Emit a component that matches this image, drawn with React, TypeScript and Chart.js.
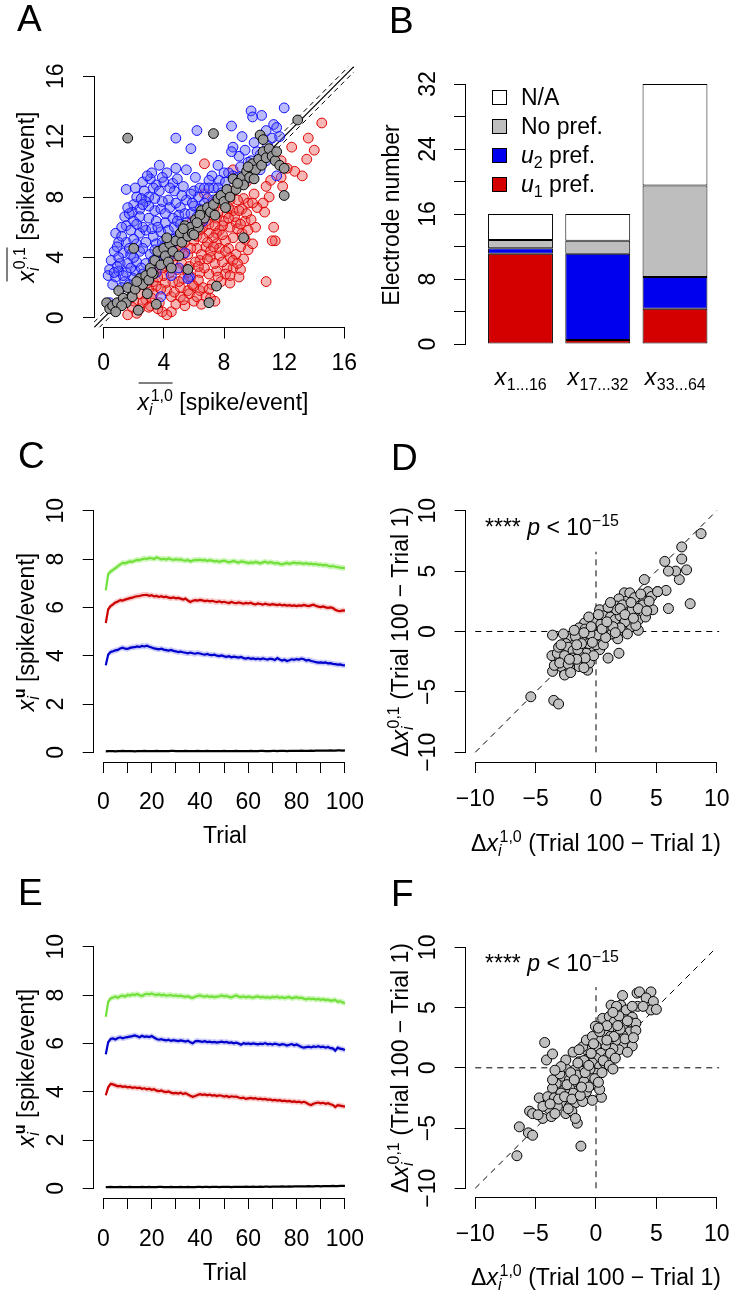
import React, { useEffect, useRef } from 'react';
import { Chart, registerables } from 'chart.js';

Chart.register(...registerables);

const FONT = '"Liberation Sans", Arial, Helvetica, sans-serif';
Chart.defaults.font.family = FONT;

// ---------------- Panel A data ----------------
const A_TICKS = [0, 4, 8, 12, 16];
const A_DIAG_OFFSET = 0.35;
const A_BLUE: number[][] = [
  [9.8,13.7],[10.5,13.4],[9.9,13.3],[12.0,13.9],[11.3,12.8],[11.5,12.6],[10.8,12.4],[11.2,11.9],[11.7,12.0],[8.5,12.7],
  [6.2,12.4],[4.8,11.9],[5.8,11.2],[8.6,11.3],[9.4,11.1],[9.0,10.7],[8.5,11.0],[11.5,9.4],[10.4,10.8],[10.9,11.4],
  [11.1,11.0],[3.7,10.1],[3.2,9.6],[4.2,9.6],[4.8,9.9],[5.5,9.8],[6.1,9.3],[7.2,9.4],[7.6,10.1],[2.6,9.0],
  [3.5,8.8],[4.6,8.9],[4.7,8.4],[1.5,8.5],[2.7,8.4],[3.3,8.6],[3.7,8.4],[3.0,8.0],[4.3,7.8],[2.0,7.5],
  [2.4,7.2],[2.8,7.7],[3.4,7.1],[3.8,7.2],[4.4,7.3],[5.1,7.3],[5.0,6.8],[5.4,6.9],[6.0,8.4],[6.4,8.6],
  [6.7,8.6],[7.3,8.6],[7.0,9.1],[7.7,9.1],[8.6,9.4],[8.9,9.3],[9.4,9.1],[10.4,9.8],[11.1,10.7],[10.8,10.4],
  [7.3,7.8],[6.3,8.0],[5.8,8.2],[5.5,7.8],[1.4,6.7],[2.0,6.4],[2.4,6.7],[3.0,6.6],[3.5,6.4],[4.1,6.3],
  [4.6,6.6],[5.5,6.3],[6.2,6.7],[6.6,6.4],[1.5,6.1],[0.8,5.6],[1.8,5.8],[2.4,5.6],[2.8,5.8],[3.3,5.4],
  [3.8,5.7],[4.3,5.8],[4.8,5.3],[5.5,5.4],[1.0,5.0],[1.5,5.0],[2.2,4.9],[2.8,5.0],[3.5,4.9],[4.2,5.1],
  [0.7,4.4],[1.3,4.3],[1.8,4.2],[2.4,4.4],[3.1,4.2],[3.8,4.3],[4.5,4.6],[0.5,3.8],[1.1,3.6],[1.6,3.6],
  [2.2,3.7],[2.8,3.6],[0.4,3.2],[1.0,3.1],[1.5,3.0],[2.1,3.1],[0.3,2.8],[0.8,2.7],[1.4,2.4],[2.0,2.6],
  [0.6,2.2],[1.2,2.0],[0.4,1.0],[3.8,1.4],[5.7,2.7],[5.0,3.3],[4.3,4.0],[4.0,4.7],[5.4,4.3],[3.5,3.0],
  [3.0,2.6],[1.9,7.0],[2.2,8.0],[3.1,9.2],[4.0,9.0],[2.6,6.0],[3.2,5.9],[3.6,6.0],[4.7,6.0],[5.1,6.2],
  [1.2,5.4],[1.7,4.6],[2.0,5.2],[2.6,4.6],[3.4,4.5],[3.9,5.0],[1.0,4.0],[0.9,3.4],[1.8,3.3],[2.5,3.3],
  [1.3,2.8],[5.8,6.9],[6.0,7.4],[6.9,7.9],[6.4,7.2],[7.6,8.6],[8.1,9.0],[7.9,8.3],[8.3,9.6],[9.8,10.4],
  [10.2,11.0],[9.6,10.3],[5.2,8.1],[4.4,8.6],[3.9,7.7],[2.5,7.9],[1.7,6.9],[3.0,7.4],[4.5,2.8],[5.6,2.6],
  [2.9,9.4],[3.9,9.3],[4.9,9.2],[5.3,8.7],[2.1,8.6],[3.4,7.9],[4.8,7.6],[5.9,7.6],[6.7,7.6],[2.6,7.5],
  [1.6,7.3],[4.1,6.9],[4.9,6.4],[5.8,5.9],[2.2,6.2],[1.2,6.0],[0.9,4.7],[2.0,4.0],[3.3,3.8],[0.7,3.0],
  [1.7,2.2],[2.6,2.9],[3.9,3.6],[4.6,5.2],[6.8,7.1],[7.0,8.6],[8.0,9.6],[9.1,10.0],[10.0,11.6],[9.2,12.0],
];
const A_RED: number[][] = [
  [14.5,12.9],[13.6,11.9],[14.0,11.1],[13.5,10.5],[13.2,9.4],[12.7,9.7],[12.2,9.9],[12.5,11.3],[11.2,10.8],[11.8,10.4],
  [11.8,9.3],[11.9,8.7],[11.1,9.1],[10.8,8.7],[11.0,8.0],[10.6,7.6],[10.7,7.0],[10.1,6.0],[11.3,6.0],[11.4,5.1],
  [11.2,5.1],[10.8,2.4],[6.7,10.2],[8.6,9.8],[9.5,9.0],[10.0,8.2],[9.3,7.9],[9.6,7.6],[10.2,7.3],[6.7,8.2],
  [7.3,7.2],[7.7,8.0],[8.4,7.8],[8.6,7.1],[8.9,7.8],[9.2,7.2],[8.2,6.9],[7.5,6.6],[6.8,6.4],[6.4,5.8],
  [6.0,5.1],[7.0,5.6],[7.7,5.8],[8.4,6.0],[8.8,6.3],[9.4,6.4],[8.6,5.3],[9.2,5.6],[9.6,5.8],[8.1,5.1],
  [7.5,4.9],[6.8,4.7],[6.2,4.6],[5.6,4.2],[5.1,4.6],[4.6,3.8],[5.2,3.6],[5.7,3.4],[6.4,3.8],[7.1,4.0],
  [7.7,4.1],[8.4,4.0],[8.8,4.2],[9.3,3.9],[8.6,3.3],[9.1,3.2],[8.2,3.3],[7.5,3.1],[7.0,2.9],[6.4,3.0],
  [5.8,2.7],[5.3,2.6],[4.6,2.4],[4.1,2.3],[3.5,2.1],[3.0,1.9],[2.4,1.6],[2.0,1.1],[1.6,0.2],[2.4,0.6],
  [3.1,0.8],[3.7,1.0],[4.5,0.4],[5.1,1.4],[5.6,1.8],[6.4,1.8],[7.1,1.3],[7.4,1.1],[8.4,2.3],[9.0,2.7],
  [6.6,2.0],[6.0,2.1],[4.2,1.8],[3.3,1.6],[8.6,8.4],[7.5,5.6],[5.0,5.2],[5.5,5.6],[6.1,6.1],[6.6,6.0],
  [7.0,6.2],[7.3,5.3],[7.9,5.5],[8.0,6.4],[8.7,6.7],[9.0,7.1],[6.2,5.4],[5.8,4.6],[5.3,4.2],[4.9,3.2],
  [4.4,3.0],[4.0,2.8],[3.8,1.9],[3.3,2.4],[2.8,1.2],[2.2,0.3],[2.6,1.0],[3.0,0.7],[3.9,0.4],[4.8,0.9],
  [5.4,0.8],[6.0,1.1],[6.8,1.4],[7.8,2.4],[8.1,2.9],[7.4,3.6],[6.7,3.3],[6.1,3.7],[5.5,3.2],[5.9,2.2],
  [6.3,2.5],[7.2,2.2],[8.6,3.8],[9.6,4.5],[9.9,4.9],[9.1,4.7],[8.3,4.6],[7.7,4.6],[7.1,4.4],[6.5,4.2],
  [6.9,5.0],[7.6,7.0],[8.0,7.5],[8.3,7.3],[9.5,6.9],[9.9,7.6],[5.7,5.8],[4.7,4.1],[4.3,3.5],[3.6,2.7],
  [2.9,2.3],[3.2,1.3],[4.5,1.4],[5.1,2.0],[5.7,1.6],[6.5,0.9],[4.2,0.2],[7.9,6.1],[8.9,5.9],[9.8,6.5],
  [6.5,7.0],[7.2,7.6],[5.9,6.4],[4.9,4.8],[5.4,5.0],[3.9,3.3],[3.4,3.4],[2.7,2.6],[2.1,2.0],[1.9,0.7],
  [6.9,3.9],[7.9,3.7],[8.9,3.6],[7.3,4.7],[8.1,4.4],[9.4,5.2],[6.6,5.3],[7.4,6.1],[8.3,6.6],[9.1,6.2],
  [5.0,2.4],[5.6,3.0],[6.3,3.4],[7.6,2.7],[8.4,2.8],[4.7,1.7],[5.3,1.2],[6.2,1.4],[7.0,1.9],[3.6,0.6],
];
const A_GRAY: number[][] = [
  [0.2,1.0],[0.4,0.6],[0.6,0.8],[0.9,1.0],[1.0,1.8],[1.3,1.3],[1.5,1.0],[1.6,2.0],[1.9,1.4],[2.1,1.9],
  [2.3,0.5],[2.4,2.6],[2.6,2.2],[2.8,2.8],[2.9,1.6],[3.1,3.3],[3.3,2.9],[3.4,3.8],[3.6,4.4],[3.8,3.5],
  [4.0,4.6],[4.1,4.1],[4.3,3.7],[4.4,4.9],[4.6,4.4],[4.8,5.1],[5.0,4.1],[5.1,5.6],[5.2,5.0],[5.4,6.1],
  [5.6,5.4],[5.8,6.0],[5.9,5.6],[6.1,6.5],[6.3,6.0],[6.5,7.1],[6.7,6.6],[6.9,7.3],[7.1,7.0],[7.3,7.5],
  [7.6,7.9],[7.8,8.1],[8.0,7.7],[8.2,8.5],[8.4,8.0],[8.6,9.2],[8.8,8.5],[9.0,9.0],[9.2,9.3],[9.3,8.8],
  [9.5,9.7],[9.7,9.3],[9.9,10.2],[10.1,9.8],[10.3,10.5],[10.5,10.1],[10.6,11.0],[10.8,10.6],[11.0,11.2],[11.2,10.7],
  [11.4,10.4],[11.7,10.1],[12.0,9.9],[12.0,8.1],[10.4,12.1],[10.6,11.8],[12.9,13.1],[1.6,11.9],[7.3,12.2],[7.0,1.0],
  [9.3,5.3],[7.5,2.1],[2.0,4.6],[3.5,0.9],[5.6,3.2],[1.2,0.8],[0.8,0.4],[2.2,2.4],[3.0,2.5],[4.5,3.3],
  [5.3,5.9],[6.0,5.5],[6.4,6.8],[7.4,6.8],[8.1,7.3],[8.9,8.9],[9.6,10.0],[10.0,9.2],[11.5,11.0],[6.2,6.3],
  [4.2,5.3],[3.2,3.0],
];

// ---------------- Panel B data ----------------
const B_GROUPS = ['1...16', '17...32', '33...64'];
const B_POS = [1, 2, 3];
const B_U1 = [11.1, 0.5, 4.35];
const B_U2 = [0.7, 10.6, 3.9];
const B_NOPREF = [1.0, 1.6, 11.25];
const B_NA = [3.2, 3.3, 12.5];
const B_TICKS = [0, 4, 8, 12, 16, 20, 24, 28, 32];
const B_LABELS = [0, 8, 16, 24, 32];
const B_LEGEND = ['N/A', 'No pref.', 'u2 pref.', 'u1 pref.'];

// ---------------- Panels C / E data ----------------
const TRIALS = Array.from({ length: 100 }, (_, i) => i + 1);
const T_TICKS = [0, 10, 20, 30, 40, 50, 60, 70, 80, 90, 100];
const T_LABELS = [0, 20, 40, 60, 80, 100];
const R_TICKS = [0, 2, 4, 6, 8, 10];
const SEM = 0.12;

const C_GREEN = [
  6.70,7.38,7.48,7.55,7.62,7.70,7.78,7.84,7.82,7.86,
  7.90,7.88,7.93,7.96,7.95,7.99,8.02,8.00,8.04,8.03,
  8.00,8.06,8.03,7.99,8.01,7.98,8.02,7.99,7.96,7.99,
  7.97,7.98,7.95,7.93,7.96,7.90,7.94,7.96,7.95,7.97,
  7.94,7.96,7.92,7.95,7.93,7.90,7.92,7.88,7.91,7.93,
  7.90,7.86,7.89,7.92,7.88,7.85,7.90,7.88,7.86,7.83,
  7.86,7.84,7.88,7.85,7.82,7.86,7.89,7.84,7.87,7.85,
  7.82,7.84,7.80,7.78,7.81,7.84,7.80,7.83,7.85,7.82,
  7.84,7.82,7.80,7.83,7.79,7.81,7.78,7.80,7.76,7.77,
  7.74,7.76,7.72,7.69,7.71,7.68,7.66,7.64,7.63,7.62,
];
const C_RED = [
  5.35,5.92,6.05,6.12,6.20,6.24,6.30,6.28,6.32,6.35,
  6.38,6.40,6.44,6.46,6.47,6.50,6.51,6.52,6.48,6.50,
  6.45,6.47,6.43,6.46,6.42,6.44,6.40,6.38,6.41,6.37,
  6.39,6.36,6.32,6.36,6.28,6.22,6.27,6.30,6.28,6.31,
  6.29,6.26,6.28,6.25,6.27,6.24,6.22,6.25,6.21,6.23,
  6.20,6.18,6.22,6.19,6.17,6.20,6.18,6.15,6.18,6.16,
  6.19,6.14,6.12,6.16,6.14,6.11,6.15,6.12,6.10,6.13,
  6.11,6.09,6.12,6.08,6.10,6.07,6.09,6.06,6.08,6.05,
  6.08,6.06,6.10,6.07,6.05,6.08,6.11,6.06,6.03,6.01,
  6.04,6.00,5.98,6.00,5.97,5.90,5.86,5.84,5.87,5.86,
];
const C_BLUE = [
  3.60,4.05,4.15,4.18,4.22,4.24,4.30,4.33,4.29,4.28,
  4.32,4.34,4.35,4.38,4.36,4.40,4.38,4.41,4.37,4.34,
  4.30,4.28,4.26,4.29,4.25,4.23,4.21,4.24,4.20,4.18,
  4.15,4.17,4.14,4.12,4.10,4.13,4.10,4.08,4.11,4.09,
  4.06,4.04,4.07,4.03,4.02,4.04,4.00,3.98,4.01,3.97,
  3.95,3.98,3.93,3.96,3.94,3.92,3.95,3.90,3.88,3.91,
  3.87,3.89,3.86,3.88,3.85,3.89,3.86,3.84,3.88,3.86,
  3.82,3.90,3.84,3.80,3.83,3.78,3.81,3.85,3.83,3.86,
  3.84,3.88,3.85,3.80,3.82,3.78,3.76,3.73,3.71,3.72,
  3.70,3.72,3.68,3.69,3.66,3.65,3.63,3.64,3.61,3.60,
];
const C_BLACK = [
  0.04,0.05,0.05,0.05,0.04,0.05,0.05,0.06,0.05,0.05,
  0.05,0.05,0.04,0.05,0.05,0.05,0.06,0.05,0.05,0.05,
  0.05,0.06,0.05,0.05,0.05,0.05,0.05,0.06,0.06,0.05,
  0.05,0.05,0.05,0.06,0.05,0.05,0.05,0.05,0.06,0.05,
  0.05,0.05,0.06,0.05,0.05,0.05,0.05,0.05,0.05,0.06,
  0.05,0.05,0.05,0.05,0.06,0.05,0.05,0.05,0.05,0.05,
  0.06,0.05,0.05,0.05,0.06,0.06,0.05,0.05,0.05,0.06,
  0.06,0.05,0.06,0.06,0.06,0.05,0.06,0.06,0.06,0.06,
  0.06,0.07,0.06,0.06,0.06,0.07,0.06,0.07,0.07,0.07,
  0.07,0.07,0.07,0.08,0.07,0.07,0.08,0.08,0.07,0.08,
];
const E_GREEN = [
  7.10,7.72,7.86,7.90,7.93,7.89,7.95,7.97,7.94,8.00,
  7.98,8.02,8.00,8.04,7.99,7.96,8.02,8.05,8.03,8.06,
  8.02,8.00,8.03,7.99,8.01,7.97,7.99,8.00,7.96,7.98,
  7.95,7.97,7.94,7.92,7.95,7.90,7.88,7.93,7.96,7.98,
  7.95,7.93,7.96,7.92,7.94,7.91,7.93,7.95,7.98,7.94,
  7.96,7.92,7.90,7.95,7.98,7.93,7.91,7.94,7.90,7.93,
  7.91,7.89,7.92,7.94,7.90,7.92,7.89,7.91,7.88,7.92,
  7.90,7.93,7.88,7.91,7.87,7.90,7.92,7.86,7.89,7.91,
  7.87,7.89,7.85,7.82,7.86,7.83,7.85,7.81,7.84,7.80,
  7.83,7.79,7.81,7.76,7.78,7.80,7.72,7.74,7.70,7.66,
];
const E_BLUE = [
  5.55,6.05,6.18,6.20,6.16,6.22,6.25,6.21,6.24,6.26,
  6.28,6.30,6.33,6.29,6.25,6.31,6.27,6.29,6.26,6.30,
  6.24,6.18,6.15,6.17,6.14,6.12,6.15,6.10,6.13,6.11,
  6.09,6.12,6.10,6.07,6.11,6.04,6.00,6.08,6.10,6.08,
  6.06,6.09,6.05,6.07,6.04,6.06,6.03,6.05,6.07,6.04,
  6.06,6.02,6.04,6.00,6.03,5.99,5.94,6.01,5.98,6.00,
  5.97,6.00,5.98,5.96,5.99,5.97,6.01,5.96,5.98,5.95,
  5.99,5.96,5.93,5.97,5.95,5.91,5.94,5.97,5.92,5.95,
  5.90,5.85,5.82,5.84,5.86,5.83,5.87,5.85,5.88,5.84,
  5.86,5.82,5.85,5.80,5.79,5.70,5.82,5.78,5.76,5.72,
];
const E_RED = [
  3.85,4.18,4.32,4.30,4.26,4.22,4.24,4.20,4.22,4.18,
  4.20,4.16,4.18,4.15,4.17,4.12,4.14,4.10,4.12,4.08,
  4.10,4.04,4.02,4.05,4.00,3.98,4.01,3.96,3.93,3.95,
  3.92,3.96,3.90,3.94,3.88,3.83,3.79,3.82,3.86,3.90,
  3.87,3.89,3.85,3.88,3.84,3.86,3.82,3.85,3.83,3.80,
  3.82,3.78,3.81,3.79,3.80,3.76,3.73,3.75,3.70,3.72,
  3.74,3.71,3.73,3.69,3.71,3.68,3.70,3.66,3.68,3.64,
  3.66,3.63,3.65,3.61,3.63,3.60,3.62,3.58,3.60,3.57,
  3.59,3.55,3.58,3.54,3.48,3.45,3.50,3.53,3.55,3.52,
  3.54,3.50,3.52,3.48,3.45,3.36,3.44,3.42,3.40,3.38,
];
const E_BLACK = [
  0.05,0.05,0.06,0.05,0.05,0.05,0.06,0.05,0.05,0.05,
  0.06,0.05,0.05,0.05,0.05,0.06,0.05,0.05,0.06,0.05,
  0.05,0.05,0.06,0.06,0.05,0.05,0.05,0.06,0.05,0.05,
  0.05,0.06,0.05,0.05,0.06,0.05,0.05,0.05,0.06,0.06,
  0.05,0.06,0.06,0.05,0.06,0.06,0.06,0.05,0.06,0.06,
  0.06,0.06,0.05,0.06,0.06,0.06,0.06,0.06,0.07,0.06,
  0.06,0.07,0.06,0.06,0.07,0.06,0.07,0.07,0.06,0.07,
  0.07,0.07,0.07,0.08,0.07,0.07,0.08,0.07,0.08,0.08,
  0.08,0.08,0.08,0.08,0.09,0.08,0.08,0.09,0.09,0.08,
  0.09,0.09,0.09,0.09,0.10,0.09,0.09,0.10,0.10,0.10,
];

// ---------------- Panels D / F data ----------------
const D_TICKS = [-10, -5, 0, 5, 10];
const D_VLINE_TOP = 6.6;
const F_VLINE_TOP = 6.7;
const D_PTS: number[][] = [
  [8.7,8.1],[7.1,7.0],[7.1,6.0],[7.5,5.1],[6.9,4.3],[6.6,5.0],[6.0,5.0],[5.7,5.8],[7.8,2.3],[6.0,1.9],
  [4.0,4.3],[5.1,3.3],[5.8,3.4],[-5.4,-5.4],[-3.5,-5.7],[-3.1,-6.0],[-3.6,-0.3],[-3.65,-2.0],[-3.6,-3.3],[-2.6,-3.5],
  [-0.7,-3.2],[1.9,-1.8],[1.0,-2.2],[3.5,0.1],[4.7,1.8],[2.35,3.2],[4.0,3.0],[3.8,2.6],[3.0,2.3],[3.6,2.1],
  [2.5,2.5],[2.8,3.2],[4.3,3.3],[4.6,2.9],[5.1,3.3],[1.9,2.7],[1.7,2.1],[2.1,1.6],[1.4,1.5],[0.8,1.6],
  [0.3,1.8],[0.4,1.2],[1.1,0.9],[1.9,0.95],[2.8,1.2],[3.2,1.6],[3.5,0.95],[4.1,1.2],[2.9,0.4],[2.2,0.1],
  [1.5,0.3],[0.8,0.4],[0.0,0.5],[-0.55,0.8],[-0.95,0.7],[-1.4,0.3],[-0.3,0.1],[0.3,-0.15],[1.0,-0.3],[1.8,-0.6],
  [0.5,-0.7],[-0.15,-0.6],[-0.8,-0.4],[-1.5,-0.3],[-2.1,-0.6],[-2.5,-1.0],[-1.8,-1.1],[-1.1,-1.25],[-0.4,-1.4],[0.3,-1.5],
  [-0.8,-1.8],[-1.4,-1.95],[-2.1,-1.8],[-2.8,-1.5],[-3.0,-2.2],[-2.5,-2.5],[-1.8,-2.6],[-1.1,-2.4],[-0.55,-2.6],[-1.4,-2.9],
  [-2.2,-3.0],[-2.9,-2.9],[-2.6,-3.6],[-3.45,-2.8],[-3.2,-1.8],[0.6,1.3],[1.2,1.2],[1.6,1.0],[2.0,1.3],[2.4,0.8],
  [0.9,0.1],[1.3,-0.2],[2.0,0.3],[2.6,1.8],[3.2,2.8],[3.0,1.8],[3.9,2.2],[4.4,2.5],[3.3,0.5],[2.6,-0.2],
  [0.1,-0.3],[-0.5,-0.2],[-0.9,0.2],[-0.2,0.9],[0.4,0.6],[-1.2,-0.7],[-1.7,-0.4],[-2.3,-1.3],[-1.9,-1.6],[-1.5,-1.5],
  [-0.6,-1.0],[0.0,-1.1],[-0.2,-2.0],[-0.9,-2.2],[-2.0,-2.2],[-2.6,-2.0],[-3.0,-2.6],[-2.3,-2.7],[-1.6,-2.3],[-1.2,-1.0],
  [0.6,-1.1],[1.4,0.4],[1.7,1.8],[2.2,2.2],[3.5,1.9],[4.2,1.7],[1.0,2.0],[0.2,1.4],[-0.6,1.2],[-1.8,0.1],
  [-2.7,-0.2],[-3.1,-1.3],[-2.1,-3.4],[-1.0,-3.0],[0.8,-0.5],[2.9,2.4],[3.7,3.1],[2.0,1.9],[1.2,2.4],[0.5,0.2],
  [1.6,-0.1],[2.4,1.4],[-0.4,0.4],[-1.0,-0.1],[-2.2,-2.3],[-2.9,-1.1],[3.1,1.1],[0.9,0.8],[-0.3,-0.9],[-1.6,-1.1],
];
const F_PTS: number[][] = [
  [-6.55,-7.3],[-6.35,-4.9],[-5.6,-5.4],[-5.25,-5.6],[-5.5,-3.6],[-5.25,-3.8],[-4.7,-2.5],[-4.25,2.1],[-4.1,0.65],[-3.6,1.15],
  [-1.25,-6.5],[-1.55,-4.6],[0.45,-2.45],[-0.3,-2.7],[2.2,6.0],[2.05,5.2],[3.4,6.2],[3.6,6.3],[4.55,6.3],[4.15,5.8],
  [4.75,5.5],[4.55,4.8],[5.0,4.85],[3.45,5.1],[3.9,5.1],[0.8,3.55],[-0.05,3.45],[2.2,4.25],[2.0,4.7],[1.25,5.2],
  [0.55,4.1],[1.1,4.25],[1.5,3.8],[2.1,3.7],[2.5,3.4],[2.8,3.0],[2.2,2.7],[1.7,3.0],[1.1,3.3],[0.7,2.9],
  [1.2,2.6],[1.8,2.2],[2.3,1.8],[1.9,1.5],[1.4,1.6],[0.8,1.9],[0.3,2.3],[0.0,1.8],[0.4,1.2],[0.0,0.8],
  [-0.55,0.9],[-0.8,1.5],[-1.1,1.75],[-1.9,1.3],[-1.4,0.5],[-0.8,0.1],[-0.3,0.4],[0.3,0.1],[0.7,0.4],[1.0,0.9],
  [0.0,-0.45],[-0.55,-0.7],[-1.2,-0.3],[-1.8,-0.2],[-2.5,-0.05],[-2.8,-0.7],[-2.2,-1.0],[-1.5,-1.3],[-1.0,-1.15],[-0.3,-1.4],
  [0.3,-1.8],[-0.8,-2.0],[-1.4,-1.8],[-1.9,-2.1],[-2.6,-1.8],[-3.3,-1.3],[-3.6,-1.7],[-4.0,-2.4],[-3.45,-2.5],[-2.8,-2.9],
  [-2.2,-3.2],[-1.7,-2.9],[-1.1,-2.8],[-3.2,-3.2],[-3.9,-3.4],[-4.4,-3.2],[-4.4,-4.2],[-3.7,-4.05],[-2.5,-3.8],[-2.0,-3.6],
  [-3.6,-1.0],[-3.0,-0.5],[-2.5,0.65],[-1.4,1.5],[-0.8,2.3],[-0.3,2.6],[0.3,3.0],[1.7,5.1],[2.5,4.8],[3.0,5.1],
  [3.0,4.2],[2.8,3.8],[3.3,3.7],[3.3,3.1],[3.0,1.8],[0.6,0.6],[1.2,1.2],[1.5,2.6],[2.0,3.2],[0.9,3.5],
  [0.2,3.3],[-0.4,1.2],[-1.0,0.6],[-1.6,-0.6],[-2.1,-0.4],[-2.4,-1.4],[-2.9,-2.1],[-3.1,-2.6],[-2.6,-2.4],[-2.0,-2.6],
  [-1.3,-2.3],[-0.6,-1.6],[-0.1,-0.9],[0.5,-0.4],[1.1,0.2],[1.6,0.8],[2.4,2.4],[2.6,3.9],[1.9,4.3],[1.4,4.6],
  [-0.5,-0.1],[-1.2,-1.6],[-1.8,-1.0],[-3.8,-3.0],[-4.8,-3.9],[-3.4,-3.8],[-2.3,-3.4],[-1.7,-4.2],[-0.9,-0.4],[0.2,-1.2],
  [1.4,-0.1],[2.6,1.3],[3.1,2.5],[-0.2,2.0],[-1.5,0.4],[-2.9,0.1],[-3.4,-0.2],[0.9,2.3],[1.8,3.5],[-0.6,0.2],
];

// ---------------- helpers ----------------
type Ax = { ticks: number[]; labels: number[]; off: number };
const fmt = (v: number) => (v < 0 ? '\u2212' + Math.abs(v) : String(v));
const al = (p: number) => Math.round(p - 0.5) + 0.5;
const pts = (arr: number[][]) => arr.map(([x, y]) => ({ x, y }));
const series = (vals: number[], d = 0) => vals.map((y, i) => ({ x: TRIALS[i], y: y + d }));

function axesPlugin(xa: Ax | null, ya: Ax | null, extra?: (chart: any) => void) {
  return {
    id: 'rAxes',
    afterDraw(chart: any) {
      const ctx = chart.ctx;
      const a = chart.chartArea;
      ctx.save();
      ctx.strokeStyle = '#000';
      ctx.fillStyle = '#000';
      ctx.lineWidth = 1;
      ctx.font = `23px ${FONT}`;
      if (xa) {
        const s = chart.scales.x;
        const y = al(a.bottom);
        ctx.beginPath();
        ctx.moveTo(al(s.getPixelForValue(xa.ticks[0])) - 0.5, y);
        ctx.lineTo(al(s.getPixelForValue(xa.ticks[xa.ticks.length - 1])) + 0.5, y);
        ctx.stroke();
        ctx.textAlign = 'center';
        ctx.textBaseline = 'middle';
        xa.labels.forEach((v) => ctx.fillText(fmt(v), s.getPixelForValue(v), a.bottom + xa.off));
      }
      if (ya) {
        const s = chart.scales.y;
        const x = al(a.left);
        ctx.beginPath();
        ctx.moveTo(x, al(s.getPixelForValue(ya.ticks[0])) + 0.5);
        ctx.lineTo(x, al(s.getPixelForValue(ya.ticks[ya.ticks.length - 1])) - 0.5);
        ctx.stroke();
        ctx.textAlign = 'center';
        ctx.textBaseline = 'middle';
        ya.labels.forEach((v) => {
          ctx.save();
          ctx.translate(a.left - ya.off, s.getPixelForValue(v));
          ctx.rotate(-Math.PI / 2);
          ctx.fillText(fmt(v), 0, 0);
          ctx.restore();
        });
      }
      if (extra) extra(chart);
      ctx.restore();
    },
  };
}

function linScale(min: number, max: number, ticks: number[]) {
  return {
    type: 'linear',
    min,
    max,
    offset: false,
    afterBuildTicks: (s: any) => {
      s.ticks = ticks.map((v) => ({ value: v }));
    },
    ticks: { display: false },
    grid: { display: true, offset: false, drawOnChartArea: false, drawTicks: true, tickLength: 11, color: '#000', lineWidth: 1 },
    border: { display: false },
  };
}

function baseOptions(padding: any, scales: any) {
  return {
    animation: false,
    responsive: false,
    devicePixelRatio: 1,
    events: [],
    layout: { padding },
    plugins: { legend: { display: false }, tooltip: { enabled: false } },
    scales,
  };
}

const refLine = (p0: number[], p1: number[], dash: number[] | null, width = 1) => ({
  type: 'line',
  data: [{ x: p0[0], y: p0[1] }, { x: p1[0], y: p1[1] }],
  borderColor: '#000',
  borderWidth: width,
  borderDash: dash || [],
  pointRadius: 0,
  fill: false,
});

const scatterSet = (arr: number[][], fill: string, border: string, r: number) => ({
  data: pts(arr),
  pointRadius: r,
  pointBorderWidth: 1,
  pointBackgroundColor: fill,
  pointBorderColor: border,
  backgroundColor: fill,
  borderColor: border,
});

// ---------------- chart configs ----------------
const A_MIN = -0.64;
const A_MAX = 16.64;
function cfgA() {
  return {
    type: 'scatter',
    data: {
      datasets: [
        scatterSet(A_GRAY, 'rgba(155,155,155,0.95)', '#000', 4.9),
        scatterSet(A_BLUE, 'rgba(90,90,255,0.42)', '#1010ff', 4.9),
        scatterSet(A_RED, 'rgba(235,80,80,0.42)', '#e00000', 4.9),
        refLine([A_MIN, A_MIN], [A_MAX, A_MAX], null, 1.2),
        refLine([A_MIN, A_MIN + A_DIAG_OFFSET], [A_MAX - A_DIAG_OFFSET, A_MAX], [5, 4]),
        refLine([A_MIN + A_DIAG_OFFSET, A_MIN], [A_MAX, A_MAX - A_DIAG_OFFSET], [5, 4]),
      ],
    },
    options: baseOptions({ left: 83, right: 12, top: 66.5, bottom: 81.5 }, {
      x: linScale(A_MIN, A_MAX, A_TICKS),
      y: linScale(A_MIN, A_MAX, A_TICKS),
    }),
    plugins: [axesPlugin({ ticks: A_TICKS, labels: A_TICKS, off: 36 }, { ticks: A_TICKS, labels: A_TICKS, off: 37 })],
  };
}

function cfgB() {
  const bar = (vals: number[], color: string) => ({
    data: B_POS.map((x, i) => ({ x, y: vals[i] })),
    backgroundColor: color,
    borderColor: '#000',
    borderWidth: 1,
    borderSkipped: false,
    categoryPercentage: 1,
    barPercentage: 0.84,
  });
  const xLabels = (chart: any) => {
    const ctx = chart.ctx;
    const s = chart.scales.x;
    const base = chart.chartArea.bottom + 41;
    B_GROUPS.forEach((sub, i) => {
      const cx = s.getPixelForValue(B_POS[i]);
      ctx.font = `italic 23px ${FONT}`;
      const w1 = ctx.measureText('x').width;
      ctx.font = `16px ${FONT}`;
      const w2 = ctx.measureText(sub).width;
      const left = cx - (w1 + w2) / 2;
      ctx.textAlign = 'left';
      ctx.textBaseline = 'alphabetic';
      ctx.font = `italic 23px ${FONT}`;
      ctx.fillText('x', left, base);
      ctx.font = `16px ${FONT}`;
      ctx.fillText(sub, left + w1 + 0.5, base + 5);
    });
  };
  return {
    type: 'bar',
    data: {
      datasets: [
        bar(B_U1, '#d40000'),
        bar(B_U2, '#0000ee'),
        bar(B_NOPREF, '#bebebe'),
        bar(B_NA, '#ffffff'),
      ],
    },
    options: baseOptions({ left: 88, right: 13, top: 84, bottom: 76 }, {
      x: { type: 'linear', display: false, stacked: true, offset: false, grid: { offset: false }, min: 0.2816, max: 3.5826 },
      y: { ...linScale(0, 32, B_TICKS), stacked: true },
    }),
    plugins: [axesPlugin(null, { ticks: B_TICKS, labels: B_LABELS, off: 36 }, xLabels)],
  };
}

function cfgTrial(green: number[], red: number[], blue: number[], black: number[], padding: any, xoff: number) {
  const line = (vals: number[], color: string) => ({
    type: 'line',
    data: series(vals),
    borderColor: color,
    borderWidth: 2.2,
    pointRadius: 0,
    tension: 0,
    fill: false,
  });
  const band = (vals: number[], color: string) => [
    { type: 'line', data: series(vals, SEM), borderWidth: 0, pointRadius: 0, backgroundColor: color, fill: '+1' },
    { type: 'line', data: series(vals, -SEM), borderWidth: 0, pointRadius: 0, fill: false },
  ];
  return {
    type: 'line',
    data: {
      datasets: [
        line(green, '#72e03a'),
        line(red, '#cc0000'),
        line(blue, '#0000cc'),
        line(black, '#000000'),
        ...band(green, 'rgba(120,230,70,0.35)'),
        ...band(red, 'rgba(230,90,90,0.3)'),
        ...band(blue, 'rgba(90,90,240,0.3)'),
      ],
    },
    options: baseOptions(padding, {
      x: linScale(-4, 104, T_TICKS),
      y: linScale(-0.4, 10.4, R_TICKS),
    }),
    plugins: [axesPlugin({ ticks: T_TICKS, labels: T_LABELS, off: xoff }, { ticks: R_TICKS, labels: R_TICKS, off: 37 })],
  };
}

function cfgDelta(data: number[][], vtop: number, padding: any, xoff: number) {
  return {
    type: 'scatter',
    data: {
      datasets: [
        scatterSet(data, '#c0c0c0', '#000', 5),
        refLine([-10, -10], [10, 10], [6, 5]),
        refLine([-10, 0], [10.2, 0], [6, 5]),
        refLine([0, -10], [0, vtop], [6, 5]),
      ],
    },
    options: baseOptions(padding, {
      x: linScale(-10.8, 10.8, D_TICKS),
      y: linScale(-10.8, 10.8, D_TICKS),
    }),
    plugins: [axesPlugin({ ticks: D_TICKS, labels: D_TICKS, off: xoff }, { ticks: D_TICKS, labels: D_TICKS, off: 37 })],
  };
}

// ---------------- components ----------------
function ChartBox({ left, top, w, h, make }: any) {
  const ref = useRef<HTMLCanvasElement | null>(null);
  useEffect(() => {
    const c = ref.current;
    if (!c) return;
    const chart = new Chart(c, make() as any);
    return () => chart.destroy();
  }, []);
  return <canvas ref={ref} width={w} height={h} style={{ position: 'absolute', left, top, width: w, height: h }} />;
}

function MX({ sup, delta, overline, boldSup }: any) {
  const inner = (
    <>
      {delta ? '\u0394' : ''}
      <i>x</i>
      <span style={{ fontSize: 16, lineHeight: 0, verticalAlign: -5, fontStyle: 'italic' }}>i</span>
      <span style={{ fontSize: 16, lineHeight: 0, verticalAlign: 9, marginLeft: -2, fontWeight: boldSup ? 'bold' : 'normal' }}>{sup}</span>
    </>
  );
  if (!overline) return inner;
  return (
    <span style={{ position: 'relative', display: 'inline-block' }}>
      <span style={{ position: 'absolute', left: 1, right: 0, top: -8, borderTop: '1.4px solid #000' }} />
      {inner}
    </span>
  );
}

function Title({ cx, cy, rot, children }: any) {
  return (
    <div
      style={{
        position: 'absolute',
        left: cx,
        top: cy,
        transform: `translate(-50%, -50%)${rot ? ' rotate(-90deg)' : ''}`,
        whiteSpace: 'nowrap',
        fontFamily: FONT,
        fontSize: 23,
        lineHeight: '23px',
        color: '#000',
      }}
    >
      {children}
    </div>
  );
}

function Letter({ x, y, t }: any) {
  return (
    <div style={{ position: 'absolute', left: x, top: y, fontFamily: FONT, fontSize: 37, lineHeight: 1, color: '#000' }}>{t}</div>
  );
}

function PAnnot({ x, y }: any) {
  return (
    <div style={{ position: 'absolute', left: x, top: y, fontFamily: FONT, fontSize: 23, lineHeight: '23px', whiteSpace: 'nowrap', color: '#000' }}>
      ****&nbsp;<i>p</i>&nbsp;&lt;&nbsp;10
      <span style={{ fontSize: 16, lineHeight: 0, verticalAlign: 9 }}>{'\u221215'}</span>
    </div>
  );
}

const LEG_COLORS = ['#ffffff', '#bebebe', '#0000ee', '#d40000'];
function Legend() {
  return (
    <>
      {B_LEGEND.map((lab, i) => {
        const top = 90 + i * 29;
        const m = lab.match(/^u(\d) (.*)$/);
        return (
          <React.Fragment key={lab}>
            <div style={{ position: 'absolute', left: 492, top, width: 15, height: 15, background: LEG_COLORS[i], border: '1px solid #000', boxSizing: 'border-box' }} />
            <div style={{ position: 'absolute', left: 521, top: top + 7.5 - 11.5, fontFamily: FONT, fontSize: 23, lineHeight: '23px', whiteSpace: 'nowrap' }}>
              {m ? (
                <>
                  <i>u</i>
                  <span style={{ fontSize: 16, lineHeight: 0, verticalAlign: -5 }}>{m[1]}</span> {m[2]}
                </>
              ) : (
                lab
              )}
            </div>
          </React.Fragment>
        );
      })}
    </>
  );
}

export default function App() {
  return (
    <div style={{ position: 'absolute', left: 0, top: 0, width: 733, height: 1295, background: '#fff', overflow: 'hidden' }}>
      <ChartBox left={0} top={0} w={366} h={420} make={cfgA} />
      <ChartBox left={366} top={0} w={367} h={420} make={cfgB} />
      <ChartBox left={0} top={420} w={366} h={430} make={() => cfgTrial(C_GREEN, C_RED, C_BLUE, C_BLACK, { left: 82.7, right: 11.4, top: 81, bottom: 77 }, 41)} />
      <ChartBox left={366} top={420} w={367} h={430} make={() => cfgDelta(D_PTS, D_VLINE_TOP, { left: 88.6, right: 6.6, top: 81, bottom: 77 }, 38)} />
      <ChartBox left={0} top={850} w={366} h={445} make={() => cfgTrial(E_GREEN, E_RED, E_BLUE, E_BLACK, { left: 82.7, right: 11.4, top: 87, bottom: 86 }, 42)} />
      <ChartBox left={366} top={850} w={367} h={445} make={() => cfgDelta(F_PTS, F_VLINE_TOP, { left: 88.6, right: 6.6, top: 87.7, bottom: 86.1 }, 37)} />

      <Letter x={17} y={0} t="A" />
      <Letter x={389} y={2} t="B" />
      <Letter x={18} y={437} t="C" />
      <Letter x={391} y={438.6} t="D" />
      <Letter x={18} y={873.6} t="E" />
      <Letter x={391} y={875.3} t="F" />

      <Title cx={26} cy={197} rot>
        <MX sup="0,1" overline /> [spike/event]
      </Title>
      <Title cx={223} cy={402}>
        <MX sup="1,0" overline /> [spike/event]
      </Title>

      <Title cx={391} cy={215} rot>Electrode number</Title>
      <Legend />

      <Title cx={26} cy={632} rot>
        <MX sup="u" boldSup /> [spike/event]
      </Title>
      <Title cx={225} cy={835}>Trial</Title>

      <Title cx={400} cy={632} rot>
        <MX sup="0,1" delta /> (Trial 100 {'\u2212'} Trial 1)
      </Title>
      <Title cx={596} cy={843}>
        <MX sup="1,0" delta /> (Trial 100 {'\u2212'} Trial 1)
      </Title>
      <PAnnot x={485} y={515.5} />

      <Title cx={26} cy={1068} rot>
        <MX sup="u" boldSup /> [spike/event]
      </Title>
      <Title cx={225} cy={1272}>Trial</Title>

      <Title cx={400} cy={1068} rot>
        <MX sup="0,1" delta /> (Trial 100 {'\u2212'} Trial 1)
      </Title>
      <Title cx={596} cy={1277}>
        <MX sup="1,0" delta /> (Trial 100 {'\u2212'} Trial 1)
      </Title>
      <PAnnot x={485} y={952} />
    </div>
  );
}
